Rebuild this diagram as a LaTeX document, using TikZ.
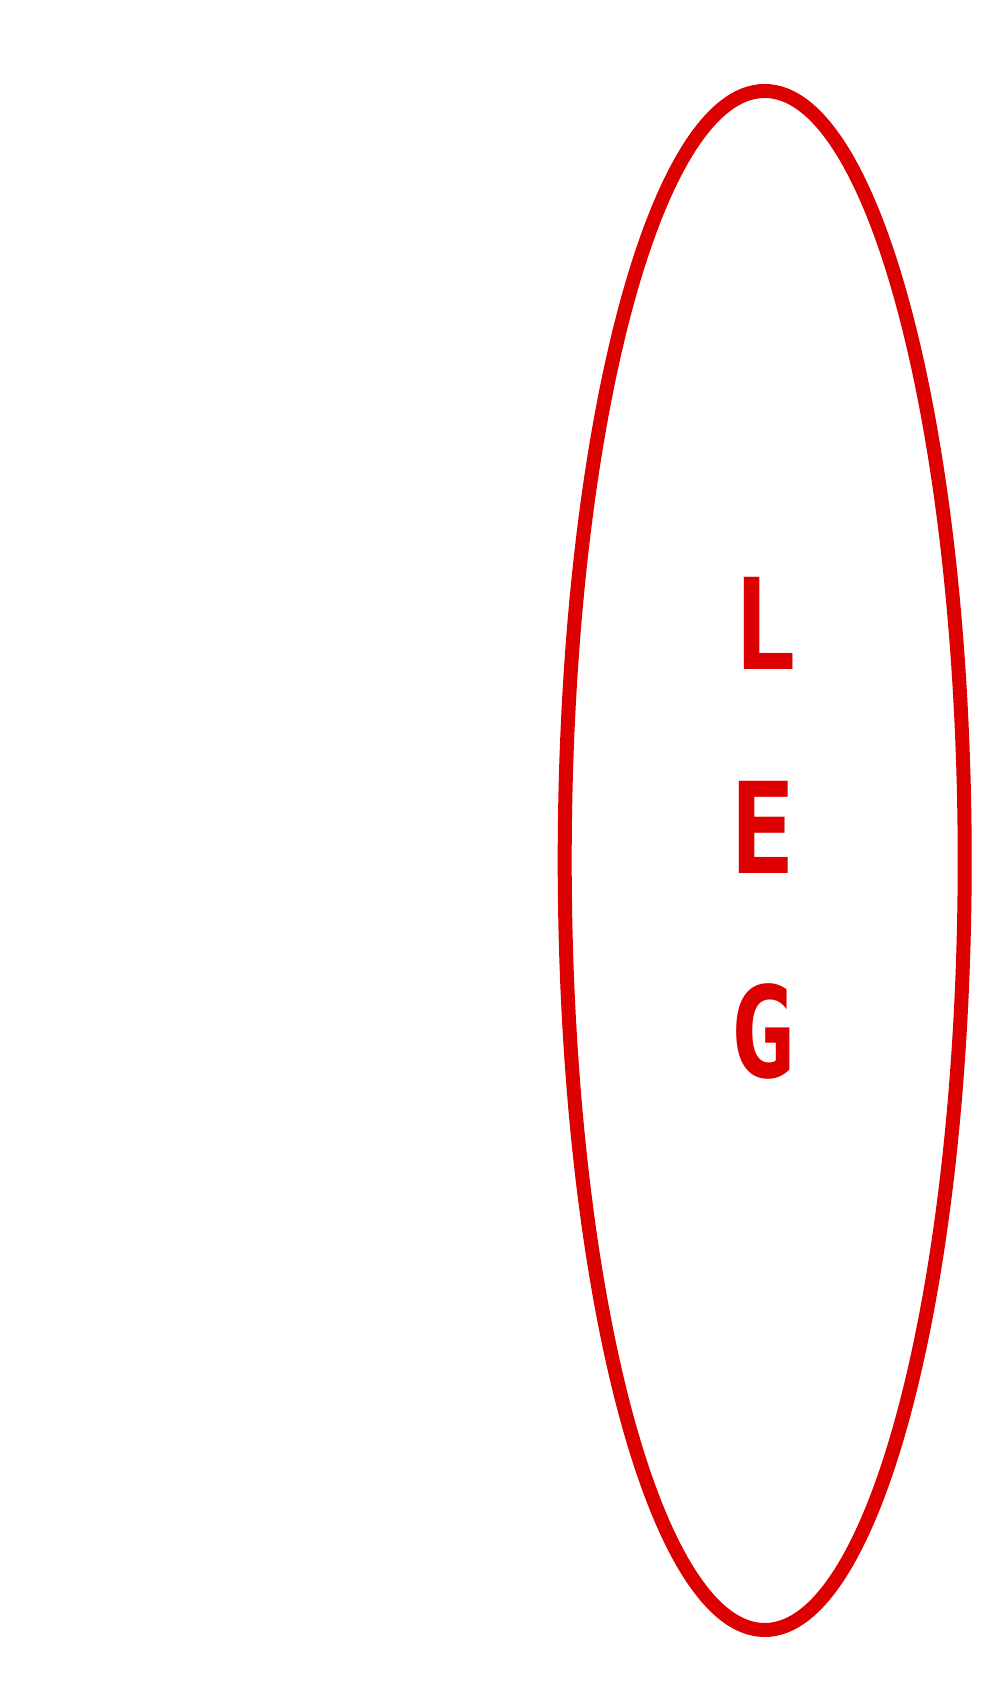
\documentclass[tikz,border=0pt]{standalone}
\usepackage{xcolor}
\usepackage{fontspec}
\newfontfamily\legfont{DejaVu Sans Mono}[BoldFont={DejaVu Sans Mono Bold}]
\definecolor{legred}{HTML}{DD0000}

\begin{document}
\begin{tikzpicture}[
      letter/.style={text=legred, inner sep=0pt, xscale=0.85, transform shape,
                     font=\legfont\bfseries\fontsize{36}{36}\selectfont}
    ]
      \useasboundingbox (0,0) rectangle (10,17);
      \draw[legred, line width=0.14cm] (7.647,8.395) ellipse [x radius=2.0, y radius=7.695];
      \node[letter] (l) at (7.65,10.765) {L};
      \node[letter] (e) at (7.63,8.73)   {E};
      \node[letter] (g) at (7.63,6.69)   {G};
    \end{tikzpicture}
\end{document}
